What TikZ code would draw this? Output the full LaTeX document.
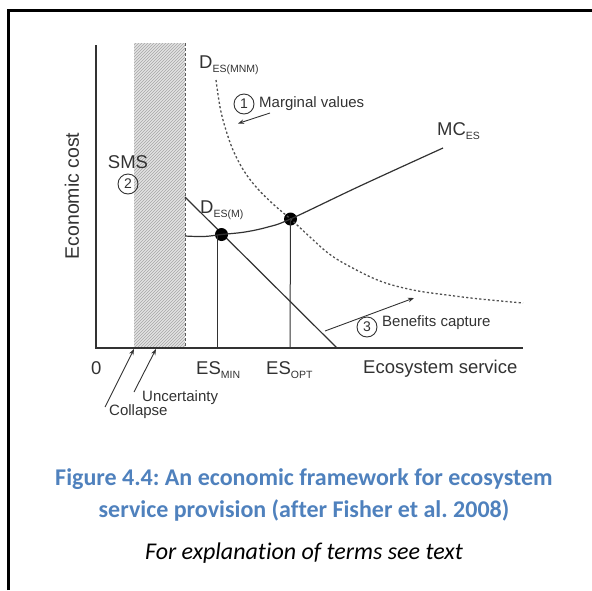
\documentclass[tikz,border=0pt]{standalone}
\usepackage{fontspec}
\setmainfont{Carlito}[Ligatures=NoCommon]
\newfontfamily\arialfont{Liberation Sans}
\usetikzlibrary{patterns,arrows.meta}
\frenchspacing

% label with a lowered small subscript, as in the figure
\newcommand{\sublbl}[2]{{\fontsize{18.5}{18.5}\selectfont #1}\raisebox{-4.5pt}{\fontsize{10.5}{10.5}\selectfont #2}}

\definecolor{capblue}{RGB}{79,129,189}
\definecolor{ink}{RGB}{50,50,50}

\tikzset{
  axis/.style={draw=ink, line width=1.2pt},
  curve/.style={draw=ink, line width=1.2pt},
  dotcurve/.style={draw=ink!85, line width=1.3pt, dash pattern=on 2.2pt off 2.2pt},
  pointer/.style={draw=ink, line width=0.9pt, -{Stealth[length=6pt,width=4.5pt]}},
  bigtxt/.style={font=\arialfont\fontsize{18.5}{18.5}\selectfont, text=ink, inner sep=0pt},
  smalltxt/.style={font=\arialfont\fontsize{15}{15}\selectfont, text=ink, inner sep=0pt},
  numcirc/.style={circle, draw=ink, line width=0.9pt, minimum size=20pt, inner sep=0pt,
    font=\arialfont\fontsize{14}{14}\selectfont, text=ink},
  eqdot/.style={circle, fill=black, minimum size=13pt, inner sep=0pt},
  caption/.style={font=\bfseries\fontsize{24}{24}\selectfont, text=capblue, inner sep=0pt},
  note/.style={font=\itshape\fontsize{24}{24}\selectfont, text=black, inner sep=0pt}
}

\begin{document}
\begin{tikzpicture}[x=1pt, y=-1pt]
\useasboundingbox (0,0) rectangle (592,590);

% page frame (left and top rules)
\draw[line width=2.6pt, line cap=butt] (8.5,590) -- (8.5,10.5) -- (592,10.5);

% safe minimum standard band
\fill[gray!22] (134,43) rectangle (185,348);
\fill[pattern=north east lines, pattern color=gray!70] (134,43) rectangle (185,348);
\coordinate (bandtop) at (185,43);
\coordinate (bandbot) at (185,348);
\draw[draw=ink!80, line width=0.8pt, dash pattern=on 3pt off 2pt] (bandtop) -- (bandbot);

% axes
\coordinate (ytop) at (96,45);
\coordinate (origin) at (96,348);
\coordinate (xend) at (523,348);
\draw[axis] (ytop) -- (origin) -- (xend);

% demand curve for marketed benefits
\coordinate (dmstart) at (185,197);
\coordinate (dmend) at (337,348);
\draw[curve] (dmstart) -- (dmend);

% equilibrium points
\node[eqdot] (emin) at (221.5,234.5) {};
\node[eqdot] (eopt) at (290.5,219) {};

% marginal cost curve
\draw[curve] plot[smooth, tension=0.6] coordinates
  {(185,236) (204,236.5) (221.5,234.5) (245,232) (268,227) (290.5,219) (360,186) (443,148)};

% demand curve including non-marketed benefits
\draw[dotcurve] plot[smooth, tension=0.6] coordinates
  {(216,80) (220,107) (225,127) (233,150) (244,171) (257,188) (273,204) (290.5,219)
   (310,237) (328,253) (347,265) (380,281) (413,290) (447,295) (480,299) (523,303)};

% drop lines to the axis
\coordinate (minfoot) at (217,348);
\coordinate (mintop) at (217,234.5);
\coordinate (optfoot) at (290,348);
\draw[curve, line width=1pt] (mintop) -- (minfoot);
\draw[curve, line width=1pt] (eopt.center) -- (optfoot);

% axis labels
\node[bigtxt, rotate=90, font=\arialfont\fontsize{19.5}{19.5}\selectfont] (ylab) at (72,196) {Economic cost};
\node[bigtxt, anchor=base west] (zero) at (91,374) {0};
\node[bigtxt, anchor=base west] (esmin) at (196,374) {\sublbl{ES}{MIN}};
\node[bigtxt, anchor=base west] (esopt) at (266,374) {\sublbl{ES}{OPT}};
\node[bigtxt, anchor=base west] (xlab) at (363,373) {Ecosystem service};

% curve labels
\node[bigtxt, anchor=base west] (dmnm) at (199,68) {\sublbl{D}{ES(MNM)}};
\node[bigtxt, anchor=base west] (dm) at (200,213) {\sublbl{D}{ES(M)}};
\node[bigtxt, anchor=base west] (mc) at (437,135) {\sublbl{MC}{ES}};

% SMS
\node[bigtxt] (sms) at (128,162) {SMS};
\node[numcirc] (c2) at (128,184) {2};

% marginal values
\node[numcirc] (c1) at (244,104) {1};
\node[smalltxt, anchor=base west] (marg) at (259,107) {Marginal values};
\coordinate (margfrom) at (270,113);
\coordinate (margto) at (238,123.5);
\draw[pointer] (margfrom) -- (margto);

% benefits capture
\node[numcirc] (c3) at (367,327) {3};
\node[smalltxt, anchor=base west] (benef) at (382,326) {Benefits capture};
\coordinate (benfrom) at (325,331);
\coordinate (bento) at (414,298);
\draw[pointer] (benfrom) -- (bento);

% collapse and uncertainty
\node[smalltxt, anchor=base west] (unc) at (142,401) {Uncertainty};
\node[smalltxt, anchor=base west] (coll) at (109,415) {Collapse};
\coordinate (collfrom) at (105,407);
\coordinate (collto) at (134,349);
\coordinate (uncfrom) at (134,392);
\coordinate (uncto) at (156,349);
\draw[pointer] (collfrom) -- (collto);
\draw[pointer] (uncfrom) -- (uncto);

% caption
\node[caption] (cap1) at (304,479) {Figure 4.4: An economic framework for ecosystem};
\node[caption] (cap2) at (304,510) {service provision (after Fisher et al. 2008)};
\node[note] (expl) at (304,553) {For explanation of terms see text};
\end{tikzpicture}
\end{document}
